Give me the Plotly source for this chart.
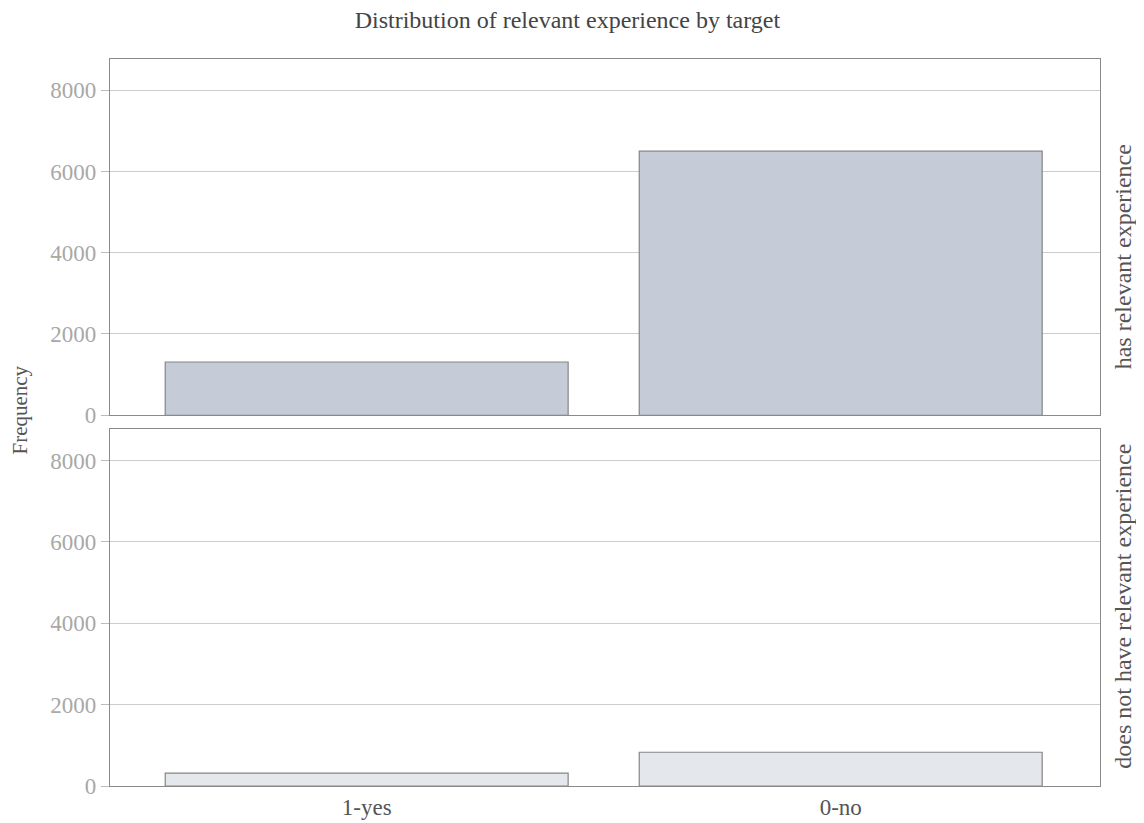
import plotly.graph_objects as go
from plotly.subplots import make_subplots

categories = ["1-yes", "0-no"]
has_exp = [1310, 6500]
no_exp = [315, 830]
facet_labels = ["has relevant experience", "does not have relevant experience"]
tick_vals = [0, 2000, 4000, 6000, 8000]

FONT = "Liberation Serif"
fig = make_subplots(rows=2, cols=1, shared_xaxes=True, vertical_spacing=0.02)

fig.add_trace(go.Bar(x=categories, y=has_exp, marker=dict(color="#c5ccd7", line=dict(color="#858585", width=1.2)),
                     showlegend=False), row=1, col=1)
fig.add_trace(go.Bar(x=categories, y=no_exp, marker=dict(color="#e4e7ec", line=dict(color="#858585", width=1.2)),
                     showlegend=False), row=2, col=1)

fig.update_layout(
    width=1144, height=823,
    margin=dict(l=102, r=52, t=51, b=45),
    plot_bgcolor="white", paper_bgcolor="white",
    bargap=0.15,
    font=dict(family=FONT, color="#555555"),
    title=dict(text="Distribution of relevant experience by target", x=0.489, xanchor="center",
               y=0.9854, yanchor="middle", yref="container",
               font=dict(family=FONT, size=24, color="#444444")),
)
fig.update_yaxes(range=[0, 8770], tickvals=tick_vals, showgrid=True, gridcolor="#cccccc", gridwidth=1,
                 showline=True, linecolor="#8a8a8a", linewidth=1.3, mirror=True, zeroline=False,
                 ticks="outside", ticklen=8, tickcolor="#bbbbbb",
                 tickfont=dict(family=FONT, size=23, color="#a8a8a8"))
fig.update_xaxes(range=[-0.5415, 1.547], showline=True, linecolor="#8a8a8a", linewidth=1.3, mirror=True, ticks="",
                 tickfont=dict(family=FONT, size=23, color="#555555"))
fig.update_layout(yaxis=dict(domain=[0.51, 1.0]), yaxis2=dict(domain=[0.0, 0.4907]))

fig.add_annotation(text="Frequency", xref="paper", yref="paper", x=-0.0905, y=0.517, textangle=-90,
                   xanchor="center", yanchor="middle",
                   showarrow=False, font=dict(family=FONT, size=21, color="#555555"))
fig.add_annotation(text=facet_labels[0], xref="paper", yref="paper", x=1.023, y=0.7283, textangle=-90,
                   xanchor="center", yanchor="middle",
                   showarrow=False, font=dict(family=FONT, size=24, color="#555555"))
fig.add_annotation(text=facet_labels[1], xref="paper", yref="paper", x=1.023, y=0.2476, textangle=-90,
                   xanchor="center", yanchor="middle",
                   showarrow=False, font=dict(family=FONT, size=24, color="#555555"))

fig.write_html("out.html")
